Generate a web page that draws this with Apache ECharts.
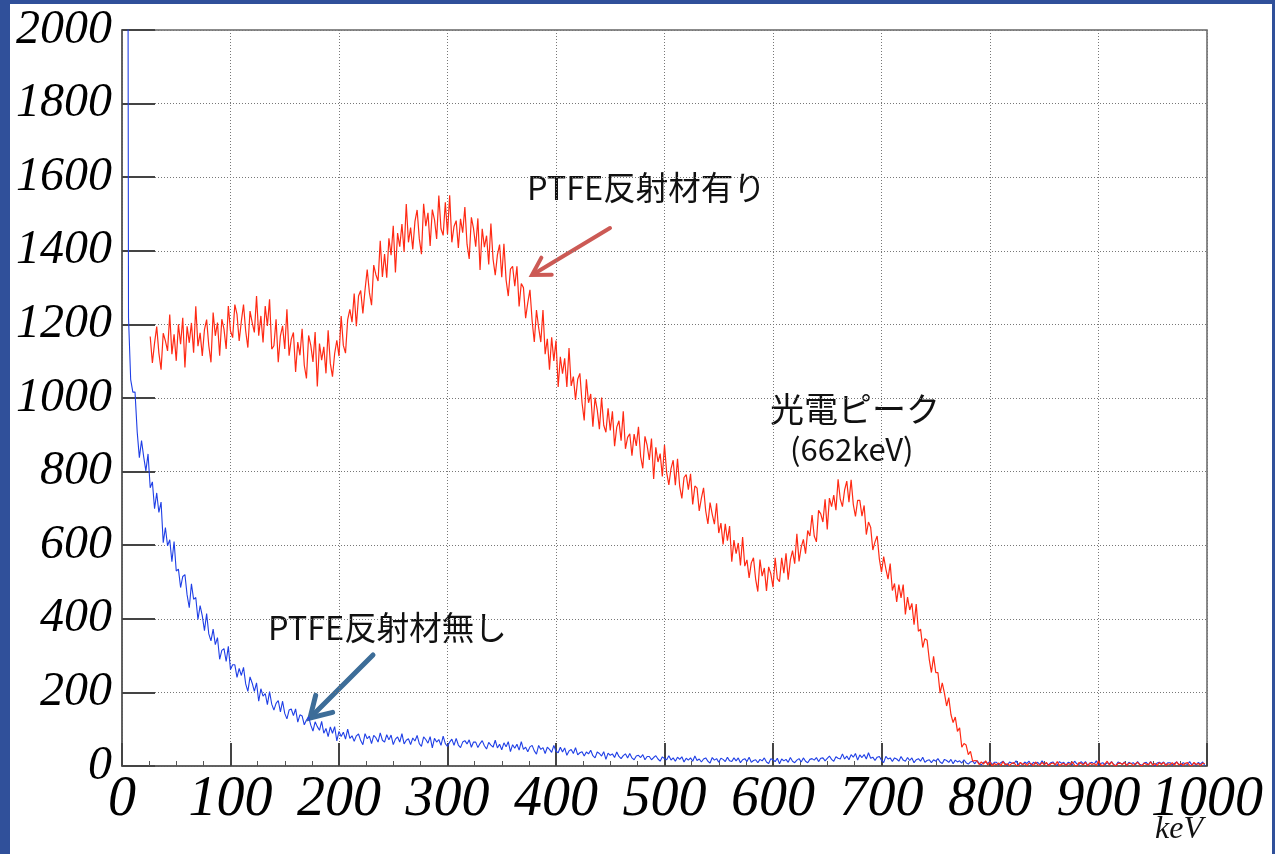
<!DOCTYPE html>
<html>
<head>
<meta charset="utf-8">
<script src="https://cdn.jsdelivr.net/npm/echarts@6/dist/echarts.min.js"></script>
<style>
html,body{margin:0;padding:0;width:1275px;height:854px;overflow:hidden;background:#30509a;}
#panel{position:absolute;left:10px;top:4px;width:1262px;height:850px;background:#ffffff;}
#chart{position:absolute;left:0;top:0;width:1275px;height:854px;}
</style>
</head>
<body>
<div id="panel"></div>
<div id="chart"></div>
<script>
// ---- data (counts per 2 keV bin) ----
const binWidthKeV = 2;
const redStartKeV = 26;   // PTFE反射材有り
const blueStartKeV = 4;   // PTFE反射材無し

const redCounts = [
1167,1095,1149,1194,1122,1077,1176,
1155,1128,1227,1119,1173,1101,1200,1146,1218,1083,
1195,1150,1204,1123,1249,1141,1177,1114,1186,1213,
1142,1097,1232,1169,1205,1115,1214,1187,1133,1250,
1182,1164,1254,1227,1155,1209,1254,1182,1137,1236,
1205,1178,1277,1169,1223,1151,1250,1196,1268,1133,
1142,1214,1097,1169,1196,1133,1241,1115,1160,1178,
1071,1152,1116,1188,1089,1053,1170,1143,1098,1179,
1031,1148,1103,1139,1067,1184,1094,1058,1121,1157,
1114,1223,1143,1122,1213,1241,1206,1284,1195,1277,
1292,1230,1294,1349,1287,1252,1361,1335,1318,1427,
1329,1391,1327,1434,1388,1468,1341,1448,1411,1473,
1397,1527,1423,1463,1404,1480,1511,1433,1391,1528,
1467,1503,1413,1512,1485,1432,1550,1460,1442,1532,
1445,1551,1423,1466,1482,1408,1487,1449,1519,1418,
1378,1491,1460,1411,1488,1348,1460,1410,1441,1363,
1474,1377,1334,1389,1417,1328,1419,1321,1277,1350,
1358,1304,1358,1249,1311,1300,1217,1259,1294,1210,
1152,1239,1191,1152,1239,1119,1161,1077,1165,1101,
1156,1030,1112,1066,1108,1030,1136,1033,1058,995,
1051,1067,987,939,1051,987,1011,922,1001,968,
915,1001,926,907,972,912,964,869,921,938,
884,964,862,893,903,843,902,870,922,841,
809,896,871,832,890,780,866,826,849,787,
872,797,764,808,831,763,835,760,727,784,
792,751,794,711,761,755,693,728,756,693,
658,716,684,657,714,633,660,602,658,612,
652,555,614,577,606,545,622,543,560,511,
552,566,508,474,561,516,538,476,541,522,
486,566,509,501,566,524,578,506,560,585,
550,631,556,595,616,577,640,625,682,625,
609,695,685,663,725,643,728,705,736,695,
779,725,705,750,774,717,778,711,678,722,
722,679,708,629,663,649,587,609,625,563,
527,569,536,508,550,477,496,446,493,457,
493,412,459,424,442,384,440,366,372,322,
346,342,290,254,298,254,254,198,226,198,
163,186,140,118,133,94,104,51,61,57,
31,40,13,15,14,4,11,5,14,3,
11,0,7,3,8,1,12,3,6,1,
7,9,2,0,10,4,7,1,8,6,
1,11,3,2,10,3,10,0,6,8,
3,12,1,5,7,1,7,4,11,2,
0,9,7,3,10,0,8,4,7,1,
14,3,1,6,13,2,11,3,0,7,
8,4,10,1,7,7,1,6,10,3,
0,8,5,3,11,2,7,1,9,4,
10,1,6,4,9,2,11,3,7,2,
7,9,2,1,10,4,7,1,8,6
];

const blueCounts = [
5200,1218,1050,1016,1016,908,838,884,840,802,
848,756,772,699,742,689,717,607,648,598,
615,555,610,530,535,485,515,520,465,430,
495,453,458,398,436,408,368,414,359,340,
372,330,349,290,314,319,284,325,262,275,
275,241,265,246,268,223,203,242,225,203,
226,176,210,190,197,167,202,168,152,170,
178,147,176,143,128,152,155,137,155,119,
139,136,112,125,134,111,95,120,107,97,
121,89,102,80,106,89,107,68,94,80,
92,73,100,75,82,67,82,87,69,58,
88,74,81,61,83,77,65,90,70,65,
85,71,84,58,73,79,65,88,60,70,
74,58,76,68,83,61,53,79,72,62,
80,49,75,65,72,56,81,61,53,65,
73,56,75,57,50,65,69,60,71,51,
65,65,50,61,69,55,46,64,57,51,
70,49,59,44,63,52,66,39,58,48,
59,43,66,45,51,39,52,56,41,32,
56,45,50,34,51,45,37,56,40,36,
51,38,49,29,41,45,34,50,30,36,
39,27,38,33,43,28,22,38,34,27,
39,18,35,29,33,23,38,26,20,28,
33,22,34,22,17,27,29,23,31,17,
26,26,17,23,28,19,13,25,20,17,
28,16,22,13,24,18,25,11,21,16,
22,13,27,15,19,11,19,22,13,8,
23,16,20,10,21,18,12,24,14,12,
22,14,22,9,17,20,12,24,10,15,
17,9,18,14,22,11,7,20,17,12,
21,6,19,14,18,10,23,13,9,16,
20,11,22,13,9,18,20,16,23,12,
21,22,14,21,27,18,13,25,21,19,
33,19,27,17,31,24,34,16,30,23,
31,19,36,21,24,15,24,26,16,9,
26,19,22,12,22,19,13,26,16,13,
23,15,22,9,17,20,13,24,10,15,
17,9,17,13,20,11,7,18,15,10,
18,6,16,11,14,8,17,9,5,11,
13,6,15,7,3,10,11,7,13,4,
10,10,4,9,13,6,2,11,8,6,
14,4,9,3,11,7,13,2,10,6,
10,4,14,5,8,3,9,11,4,2,
12,7,10,2,10,8,4,13,6,4,
12,6,12,2,8,10,5,14,3,7,
9,3,9,6,12,4,1,11,8,5,
11,1,10,6,9,3,12,5,2,8,
10,3,12,4,1,8,10,6,11,3,
9,9,3,7,11,5,1,9,6,4,
12,3,8,2,10,5,11,1
];

const xAxisRange = [0, 1000];
const yAxisRange = [0, 2000];
const xUnitLabel = 'keV';
const labelWith = 'PTFE反射材有り';
const labelWithout = 'PTFE反射材無し';
const labelPeak = '光電ピーク';
const labelPeakEnergy = '(662keV)';

function toPairs(start, counts) {
  return counts.map((c, i) => [start + i * binWidthKeV, c]);
}

const chart = echarts.init(document.getElementById('chart'), null, {renderer: 'canvas'});

const serifLabel = {fontFamily: 'Liberation Serif', fontStyle: 'italic', color: '#000', formatter: v => String(v)};
const jpFont = 'Noto Sans CJK JP';

function arrow(tail, tip, color, width, headLen, headHalf) {
  const dx = tip[0] - tail[0], dy = tip[1] - tail[1];
  const L = Math.hypot(dx, dy);
  const ux = dx / L, uy = dy / L;
  const nx = -uy, ny = ux;
  const bx = tip[0] - headLen * ux, by = tip[1] - headLen * uy;
  return {
    type: 'group',
    children: [
      {type: 'line', shape: {x1: tail[0], y1: tail[1], x2: tip[0] - 2 * ux, y2: tip[1] - 2 * uy},
        style: {stroke: color, lineWidth: width, lineCap: 'round'}},
      {type: 'polyline', shape: {points: [[bx + headHalf * nx, by + headHalf * ny], tip, [bx - headHalf * nx, by - headHalf * ny]]},
        style: {stroke: color, lineWidth: width, lineCap: 'round', lineJoin: 'miter', fill: null}}
    ]
  };
}

const option = {
  backgroundColor: 'transparent',
  animation: false,
  grid: {left: 122, top: 30, right: 68, bottom: 88, show: true, borderColor: '#666', borderWidth: 1.5, backgroundColor: 'transparent'},
  xAxis: {
    type: 'value', min: xAxisRange[0], max: xAxisRange[1], interval: 100,
    axisLine: {show: true, onZero: false, lineStyle: {color: '#555', width: 1.5}},
    axisTick: {show: true, inside: true, length: 23, lineStyle: {color: '#444', width: 2}},
    minorTick: {show: true, splitNumber: 4, length: 5, lineStyle: {color: '#555', width: 1}},
    splitLine: {show: true, lineStyle: {color: '#777', width: 1, type: [1, 2]}},
    axisLabel: Object.assign({fontSize: 56, margin: 6, showMinLabel: true, showMaxLabel: true}, serifLabel)
  },
  yAxis: {
    type: 'value', min: yAxisRange[0], max: yAxisRange[1], interval: 200,
    axisLine: {show: true, onZero: false, lineStyle: {color: '#555', width: 1.5}},
    axisTick: {show: true, inside: true, length: 33, lineStyle: {color: '#444', width: 2}},
    splitLine: {show: true, lineStyle: {color: '#777', width: 1, type: [1, 2]}},
    axisLabel: Object.assign({fontSize: 48, margin: 10}, serifLabel)
  },
  series: [
    {type: 'line', name: labelWithout, data: toPairs(blueStartKeV, blueCounts), showSymbol: false, symbol: 'none',
      lineStyle: {color: '#1f3fe6', width: 1.1}, clip: true, z: 3},
    {type: 'line', name: labelWith, data: toPairs(redStartKeV, redCounts), showSymbol: false, symbol: 'none',
      lineStyle: {color: '#ff2a14', width: 1.2}, clip: true, z: 4}
  ],
  graphic: [
    {type: 'text', x: 527, y: 188, style: {text: labelWith, fontFamily: jpFont, fontSize: 32.5, fill: '#111', textVerticalAlign: 'middle', textAlign: 'left'}},
    {type: 'text', x: 770, y: 409, style: {text: labelPeak, fontFamily: jpFont, fontSize: 34, fill: '#111', textVerticalAlign: 'middle', textAlign: 'left'}},
    {type: 'text', x: 790, y: 449, style: {text: labelPeakEnergy, fontFamily: jpFont, fontSize: 31, fill: '#111', textVerticalAlign: 'middle', textAlign: 'left'}},
    {type: 'text', x: 268, y: 628, style: {text: labelWithout, fontFamily: jpFont, fontSize: 32.5, fill: '#111', textVerticalAlign: 'middle', textAlign: 'left'}},
    {type: 'text', x: 1203, y: 830, style: {text: xUnitLabel, fontFamily: 'Liberation Serif', fontStyle: 'italic', fontSize: 32, fill: '#111', textVerticalAlign: 'middle', textAlign: 'right'}},
    arrow([610, 228], [532, 275], '#cc5a55', 4, 17, 10),
    arrow([373, 655], [310, 718], '#3d6d98', 5, 20, 12)
  ]
};
chart.setOption(option);
</script>
</body>
</html>
